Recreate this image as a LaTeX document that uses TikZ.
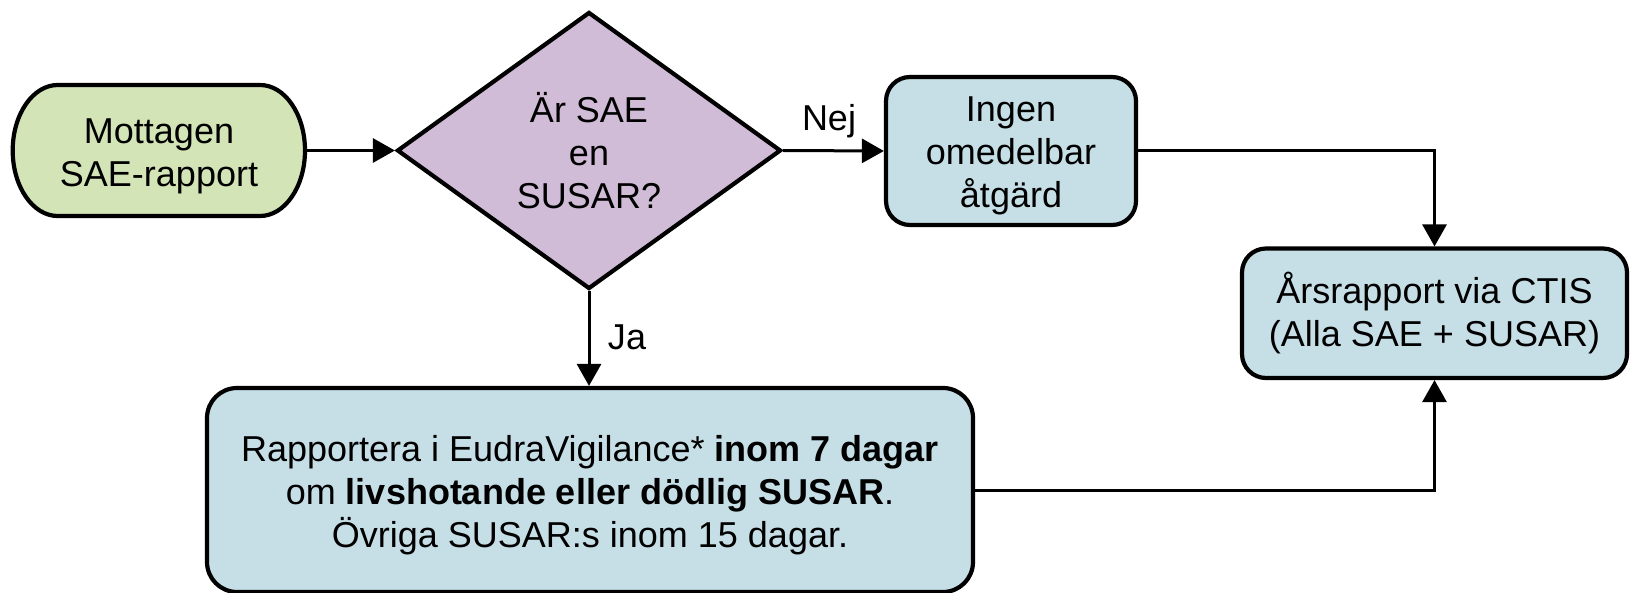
\documentclass[tikz,border=0pt]{standalone}
\usepackage{fontspec}
\setmainfont{Liberation Sans}
\usetikzlibrary{shapes.geometric,arrows.meta}
\definecolor{startgreen}{HTML}{D3E4B6}
\definecolor{decpurple}{HTML}{D0BCD6}
\definecolor{procblue}{HTML}{C6DFE7}
\newcommand{\lowerby}[1]{\rule{0pt}{#1}}
\tikzset{
  txt/.style={font=\fontsize{18}{21.5}\selectfont, align=center},
  outline/.style={draw=black, line width=2.1pt},
  procbox/.style={txt, outline, fill=procblue, rounded corners=12pt, inner sep=0pt},
  conn/.style={line width=1.5pt, -{Triangle[length=11pt,width=12pt]}},
}
\begin{document}
\begin{tikzpicture}[x=0.5pt,y=-0.5pt]
\useasboundingbox (0,0) rectangle (1631,593);
% start terminal (elliptic ends)
\draw[outline, fill=startgreen] (57.7,85) -- (260,85)
  arc[start angle=90,end angle=-90,x radius=22.5pt,y radius=32.75pt]
  -- (57.7,216)
  arc[start angle=270,end angle=90,x radius=22.5pt,y radius=32.75pt] -- cycle;
\node[txt, minimum width=146pt, minimum height=65.5pt, inner sep=0pt, outer sep=1pt] (m) at (159,156) {Mottagen\\SAE-rapport};
% decision
\node[txt, shape=diamond, outline, fill=decpurple, minimum width=192pt, minimum height=138.5pt, inner sep=0pt] (d) at (589,150.5) {Är SAE\\en\\SUSAR?};
% process boxes
\node[procbox, minimum width=125pt, minimum height=74pt] (i) at (1011,151) {\lowerby{17pt}Ingen\\omedelbar\\åtgärd};
\node[procbox, minimum width=192.5pt, minimum height=64.75pt] (a) at (1434.5,313.25) {Årsrapport via CTIS\\(Alla SAE + SUSAR)};
\node[procbox, rounded corners=15pt, minimum width=383pt, minimum height=102pt] (r) at (590,490) {\lowerby{18pt}Rapportera i EudraVigilance* \textbf{inom 7 dagar}\\om \textbf{livshotande eller dödlig SUSAR}.\\Övriga SUSAR:s inom 15 dagar.};
% connectors
\draw[conn] (m.east |- d.west) -- (d.west);
\draw[conn] (d.east) -- (i.west);
\node[txt] (nej) at (829,121) {Nej};
\draw[conn] (d.south) -- (d.south |- r.north);
\node[txt] (ja) at (627,337) {Ja};
\draw[conn] (i.east) -- (i.east -| a.north) -- (a.north);
\draw[conn] (r.east) -- (r.east -| a.south) -- (a.south);
\end{tikzpicture}
\end{document}
